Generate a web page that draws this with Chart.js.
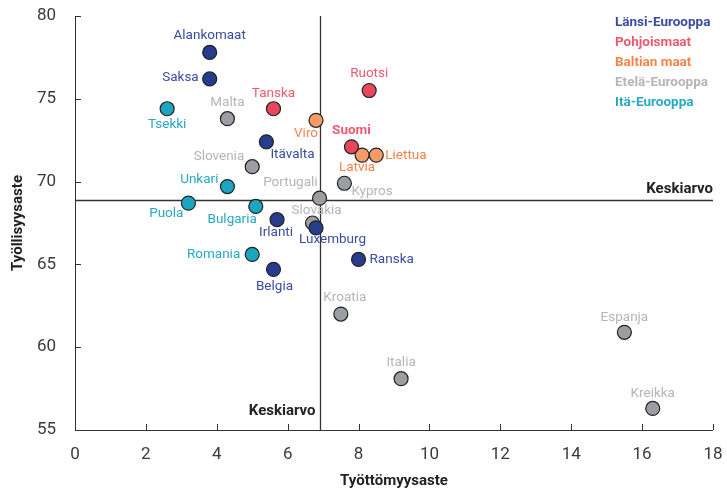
<!DOCTYPE html>
<html>
<head>
<meta charset="utf-8">
<script src="https://cdn.jsdelivr.net/npm/chart.js@4.4.1/dist/chart.umd.min.js"></script>
<style>
  html, body { margin: 0; padding: 0; background: #fff; }
  #chart { display: block; }
</style>
</head>
<body>
<canvas id="chart" width="727" height="492"></canvas>
<script>
// data
const countries = ["Alankomaat", "Saksa", "Tsekki", "Malta", "Tanska", "Viro", "Ruotsi", "Suomi",
  "Latvia", "Liettua", "Itävalta", "Slovenia", "Unkari", "Kypros", "Portugali", "Puola",
  "Bulgaria", "Irlanti", "Slovakia", "Luxemburg", "Ranska", "Romania", "Belgia", "Kroatia",
  "Italia", "Espanja", "Kreikka"];
const unemployment = [3.8, 3.8, 2.6, 4.3, 5.6, 6.8, 8.3, 7.8, 8.1, 8.5, 5.4, 5.0, 4.3, 7.6, 6.9, 3.2,
  5.1, 5.7, 6.7, 6.8, 8.0, 5.0, 5.6, 7.5, 9.2, 15.5, 16.3];
const employment = [77.8, 76.2, 74.4, 73.8, 74.4, 73.7, 75.5, 72.1, 71.6, 71.6, 72.4, 70.9, 69.7, 69.9,
  69.0, 68.7, 68.5, 67.7, 67.5, 67.2, 65.3, 65.6, 64.7, 62.0, 58.1, 60.9, 56.3];
// region index of each country (see regions)
const region = [0, 0, 4, 3, 1, 2, 1, 1, 2, 2, 0, 3, 4, 3, 3, 4, 4, 0, 3, 0, 0, 4, 0, 3, 3, 3, 3];
const regions = ["Länsi-Eurooppa", "Pohjoismaat", "Baltian maat", "Etelä-Eurooppa", "Itä-Eurooppa"];
const xTicks = [0, 2, 4, 6, 8, 10, 12, 14, 16, 18];
const yTicks = [55, 60, 65, 70, 75, 80];
const avgUnemployment = 6.9;
const avgEmployment = 68.9;
const avgLabel = "Keskiarvo";

// styling
const fillColors = ["#273b8f", "#e8475d", "#f79a68", "#9b9ea2", "#1ca4c0"];
const textColors = ["#3a4c9e", "#ec5a6e", "#f5844c", "#b5b5b5", "#27a9c4"];
// label placement: [dx, dy, align] in pixels from the point
const labelPos = [
  [0, -17, "center"], [-11, -1, "right"], [0, 16, "center"], [0, -16, "center"], [0, -15, "center"],
  [2, 13, "right"], [0, -17, "center"], [0, -16, "center"], [-5, 13, "center"], [9, 1, "left"],
  [4, 13, "left"], [-8, -10, "right"], [-9, -7, "right"], [7, 8, "left"], [-2, -16, "right"],
  [-5, 10, "right"], [1, 13, "right"], [-1, 13, "center"], [-21, -12, "left"], [-17, 12, "left"],
  [11, 0, "left"], [-12, 0, "right"], [1, 17, "center"], [4, -16, "center"], [0, -16, "center"],
  [0, -15, "center"], [0, -15, "center"]
];
const FONT = "Roboto, sans-serif";

const datasets = regions.map((name, r) => ({
  label: name,
  data: countries.map((c, i) => ({ x: unemployment[i], y: employment[i], name: c, idx: i }))
    .filter(p => region[p.idx] === r),
  backgroundColor: fillColors[r],
  borderColor: "#222",
  borderWidth: 1.2,
  pointRadius: 7,
  pointHoverRadius: 7
}));

const decorations = {
  id: "decorations",
  beforeDatasetsDraw(chart) {
    const { ctx, chartArea: a, scales: { x, y } } = chart;
    ctx.save();
    ctx.strokeStyle = "#333";
    ctx.lineWidth = 1.3;
    // average lines
    const ax = Math.round(x.getPixelForValue(avgUnemployment)) + 0.5;
    const ay = Math.round(y.getPixelForValue(avgEmployment)) + 0.5;
    ctx.beginPath();
    ctx.moveTo(ax, a.top); ctx.lineTo(ax, a.bottom);
    ctx.moveTo(a.left, ay); ctx.lineTo(a.right, ay);
    ctx.stroke();
    // axes with inward ticks
    ctx.lineWidth = 1;
    ctx.beginPath();
    ctx.moveTo(a.left + 0.5, a.top); ctx.lineTo(a.left + 0.5, a.bottom + 0.5); ctx.lineTo(a.right, a.bottom + 0.5);
    xTicks.forEach(v => { const px = Math.round(x.getPixelForValue(v)) + 0.5; ctx.moveTo(px, a.bottom); ctx.lineTo(px, a.bottom - 6); });
    yTicks.forEach(v => { const py = Math.round(y.getPixelForValue(v)) + 0.5; ctx.moveTo(a.left, py); ctx.lineTo(a.left + 6, py); });
    ctx.stroke();
    ctx.restore();
  },
  afterDatasetsDraw(chart) {
    const { ctx, chartArea: a, scales: { x, y } } = chart;
    ctx.save();
    ctx.textBaseline = "middle";
    countries.forEach((c, i) => {
      const px = x.getPixelForValue(unemployment[i]);
      const py = y.getPixelForValue(employment[i]);
      const [dx, dy, align] = labelPos[i];
      ctx.font = (c === "Suomi" ? "bold " : "") + "13.5px " + FONT;
      ctx.fillStyle = textColors[region[i]];
      ctx.textAlign = align;
      ctx.fillText(c, px + dx, py + dy);
    });
    // legend
    ctx.font = "bold 13.5px " + FONT;
    ctx.textAlign = "left";
    regions.forEach((r, i) => {
      ctx.fillStyle = textColors[i];
      ctx.fillText(r, 615, 23 + i * 20);
    });
    // average labels
    ctx.fillStyle = "#222";
    ctx.font = "bold 15px " + FONT;
    ctx.textAlign = "right";
    ctx.fillText(avgLabel, a.right, y.getPixelForValue(avgEmployment) - 11);
    ctx.fillText(avgLabel, x.getPixelForValue(avgUnemployment) - 4, a.bottom - 19);
    // axis titles
    ctx.textAlign = "center";
    ctx.fillText("Työttömyysaste", (a.left + a.right) / 2, 481);
    ctx.translate(18, (a.top + a.bottom) / 2);
    ctx.rotate(-Math.PI / 2);
    ctx.fillText("Työllisyysaste", 0, 0);
    ctx.restore();
  }
};

new Chart(document.getElementById("chart"), {
  type: "scatter",
  data: { datasets },
  options: {
    responsive: false,
    animation: false,
    layout: { padding: 0 },
    plugins: { legend: { display: false }, tooltip: { enabled: false } },
    scales: {
      x: {
        min: 0, max: 18,
        afterBuildTicks: s => { s.ticks = xTicks.map(v => ({ value: v })); },
        afterFit: s => { s.height = 62; s.paddingRight = 14; s.paddingLeft = 0; },
        grid: { display: false },
        border: { display: false },
        ticks: { color: "#3a3a3a", font: { size: 17, family: "Roboto" }, padding: 7, maxRotation: 0 }
      },
      y: {
        min: 55, max: 80,
        afterBuildTicks: s => { s.ticks = yTicks.map(v => ({ value: v })); },
        afterFit: s => { s.width = 75; s.paddingTop = 16; s.paddingBottom = 0; },
        grid: { display: false },
        border: { display: false },
        ticks: { color: "#3a3a3a", font: { size: 17, family: "Roboto" }, padding: 11 }
      }
    }
  },
  plugins: [decorations]
});
</script>
</body>
</html>
